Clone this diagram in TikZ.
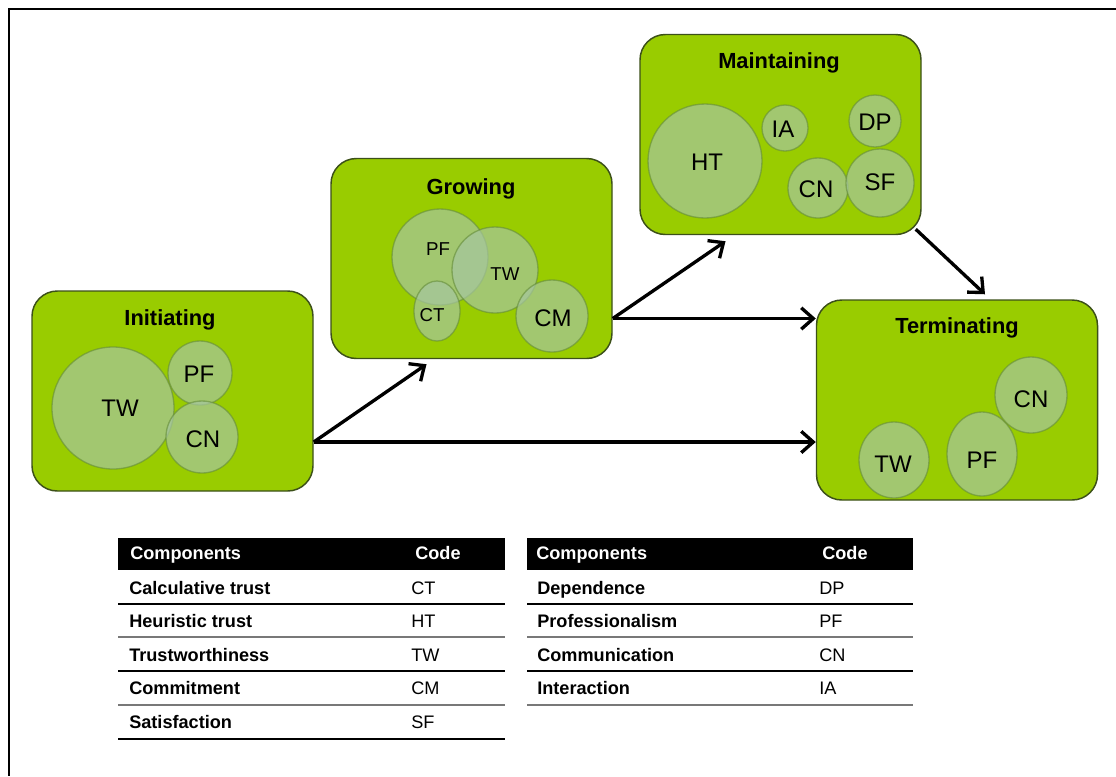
\documentclass[tikz,border=0pt]{standalone}
\usepackage{fontspec}
\setmainfont{Liberation Sans}
\usetikzlibrary{arrows.meta,shapes.geometric}
\newdimen\px \px=0.75pt
\definecolor{stagegreen}{RGB}{153,204,0}
\definecolor{stageedge}{RGB}{60,80,25}
\definecolor{bubble}{RGB}{166,198,160}
\definecolor{bubbleedge}{RGB}{100,140,55}
\definecolor{rulegray}{RGB}{120,120,120}

\begin{document}
\begin{tikzpicture}[x=0.75pt,y=-0.75pt,
  stage/.style={draw=stageedge, line width=1.1pt, fill=stagegreen,
    rounded corners=19pt, inner sep=0pt, minimum width=281\px, minimum height=200\px},
  stitle/.style={font=\fontsize{16.4}{18}\selectfont\bfseries, inner sep=0pt},
  bub/.style={circle, fill=bubble, fill opacity=0.7, draw=bubbleedge, draw opacity=0.6,
    line width=1pt, inner sep=0pt},
  ebub/.style={bub, ellipse},
  blab/.style={font=\fontsize{18}{20}\selectfont, inner sep=0pt},
  slab/.style={font=\fontsize{14}{16}\selectfont, inner sep=0pt},
  flow/.style={line width=2.5pt, -{Straight Barb[length=9pt,width=16pt,line width=2.5pt]}},
  head/.style={fill=black, draw=none},
  htext/.style={font=\fontsize{13.6}{15}\selectfont\bfseries, text=white, anchor=base west, inner sep=0pt},
  ctext/.style={font=\fontsize{13.6}{15}\selectfont\bfseries, anchor=base west, inner sep=0pt},
  ccode/.style={font=\fontsize{13.6}{15}\selectfont, anchor=base west, inner sep=0pt},
  blackrule/.style={line width=1.1pt, draw=black},
  grayrule/.style={line width=1.1pt, draw=rulegray}
]
\useasboundingbox (0,0) rectangle (1116,776);

% outer frame (top and left edges)
\draw[line width=1.8pt] (1116,9) -- (9,9) -- (9,776);

% stage boxes
\node[stage] (ini) at (172.5,391) {};
\node[stage] (gro) at (471.5,258.5) {};
\node[stage] (mai) at (780.5,134.5) {};
\node[stage] (ter) at (957,400) {};

\node[stitle] (ini-t) at (170,320) {Initiating};
\node[stitle] (gro-t) at (471,189) {Growing};
\node[stitle] (mai-t) at (779,63) {Maintaining};
\node[stitle] (ter-t) at (957,328) {Terminating};

% Initiating components
\node[bub, minimum size=122\px] (i-tw) at (113,408) {};
\node[bub, minimum size=64\px]  (i-pf) at (200,373) {};
\node[bub, minimum size=72\px]  (i-cn) at (202,437) {};
\node[blab] (i-tw-l) at (120,408) {TW};
\node[blab] (i-pf-l) at (199,374) {PF};
\node[blab] (i-cn-l) at (203,439) {CN};

% Growing components
\node[bub, minimum size=96\px] (g-pf) at (440,257) {};
\node[bub, minimum size=86\px] (g-tw) at (495,270) {};
\node[ebub, minimum width=46\px, minimum height=60\px] (g-ct) at (437,311) {};
\node[bub, minimum size=72\px] (g-cm) at (552,316) {};
\node[slab] (g-pf-l) at (438,249) {PF};
\node[slab] (g-tw-l) at (505,274) {TW};
\node[slab] (g-ct-l) at (432,315) {CT};
\node[blab] (g-cm-l) at (553,318) {CM};

% Maintaining components
\node[bub, minimum size=114\px] (m-ht) at (705,161) {};
\node[bub, minimum size=46\px]  (m-ia) at (785,128) {};
\node[bub, minimum size=52\px]  (m-dp) at (875,121) {};
\node[bub, minimum size=60\px]  (m-cn) at (818,188) {};
\node[bub, minimum size=68\px]  (m-sf) at (880,183) {};
\node[blab] (m-ht-l) at (707,162) {HT};
\node[blab] (m-ia-l) at (783,129) {IA};
\node[blab] (m-dp-l) at (875,122) {DP};
\node[blab] (m-cn-l) at (816,189) {CN};
\node[blab] (m-sf-l) at (880,182) {SF};

% Terminating components
\node[ebub, minimum width=70\px, minimum height=76\px] (t-tw) at (894,460) {};
\node[ebub, minimum width=70\px, minimum height=84\px] (t-pf) at (982,454) {};
\node[ebub, minimum width=72\px, minimum height=76\px] (t-cn) at (1031,395) {};
\node[blab] (t-tw-l) at (893,464) {TW};
\node[blab] (t-pf-l) at (982,460) {PF};
\node[blab] (t-cn-l) at (1031,399) {CN};

% transitions between stages
\draw[flow] ([yshift=-51\px]ini.east) -- ([yshift=-5\px,xshift=-45\px]gro.south);
\draw[flow] ([yshift=-51\px]ini.east) -- ([yshift=-51\px]ter.west |- ini.east);
\draw[flow] ([yshift=-60\px]gro.east) -- ([yshift=-6\px,xshift=-55\px]mai.south);
\draw[flow] ([yshift=-60\px]gro.east) -- ([yshift=-60\px]ter.west |- gro.east);
\draw[flow] ([xshift=-6\px,yshift=6\px]mai.south east) -- ([xshift=28\px,yshift=5\px]ter.north);

% code table, left
\node[head, minimum width=387\px, minimum height=32\px, inner sep=0pt] (lt-h) at (311.5,554) {};
\node[htext] (lt-h1) at (130,559) {Components};
\node[htext] (lt-h2) at (415,559) {Code};
\node[ctext] (lt-r1) at (129,594) {Calculative trust};  \node[ccode] (lt-c1) at (411,594) {CT};
\node[ctext] (lt-r2) at (129,627) {Heuristic trust};    \node[ccode] (lt-c2) at (411,627) {HT};
\node[ctext] (lt-r3) at (129,661) {Trustworthiness};    \node[ccode] (lt-c3) at (411,661) {TW};
\node[ctext] (lt-r4) at (129,694) {Commitment};         \node[ccode] (lt-c4) at (411,694) {CM};
\node[ctext] (lt-r5) at (129,728) {Satisfaction};       \node[ccode] (lt-c5) at (411,728) {SF};
\draw[blackrule] (118,604) -- (505,604);
\draw[grayrule]  (118,637) -- (505,637);
\draw[blackrule] (118,671) -- (505,671);
\draw[grayrule]  (118,705) -- (505,705);
\draw[blackrule] (118,739) -- (505,739);

% code table, right
\node[head, minimum width=386\px, minimum height=32\px, inner sep=0pt] (rt-h) at (720,554) {};
\node[htext] (rt-h1) at (536,559) {Components};
\node[htext] (rt-h2) at (822,559) {Code};
\node[ctext] (rt-r1) at (537,594) {Dependence};       \node[ccode] (rt-c1) at (819,594) {DP};
\node[ctext] (rt-r2) at (537,627) {Professionalism};  \node[ccode] (rt-c2) at (819,627) {PF};
\node[ctext] (rt-r3) at (537,661) {Communication};    \node[ccode] (rt-c3) at (819,661) {CN};
\node[ctext] (rt-r4) at (537,694) {Interaction};      \node[ccode] (rt-c4) at (819,694) {IA};
\draw[blackrule] (527,604) -- (913,604);
\draw[grayrule]  (527,637) -- (913,637);
\draw[blackrule] (527,671) -- (913,671);
\draw[grayrule]  (527,705) -- (913,705);
\end{tikzpicture}
\end{document}
